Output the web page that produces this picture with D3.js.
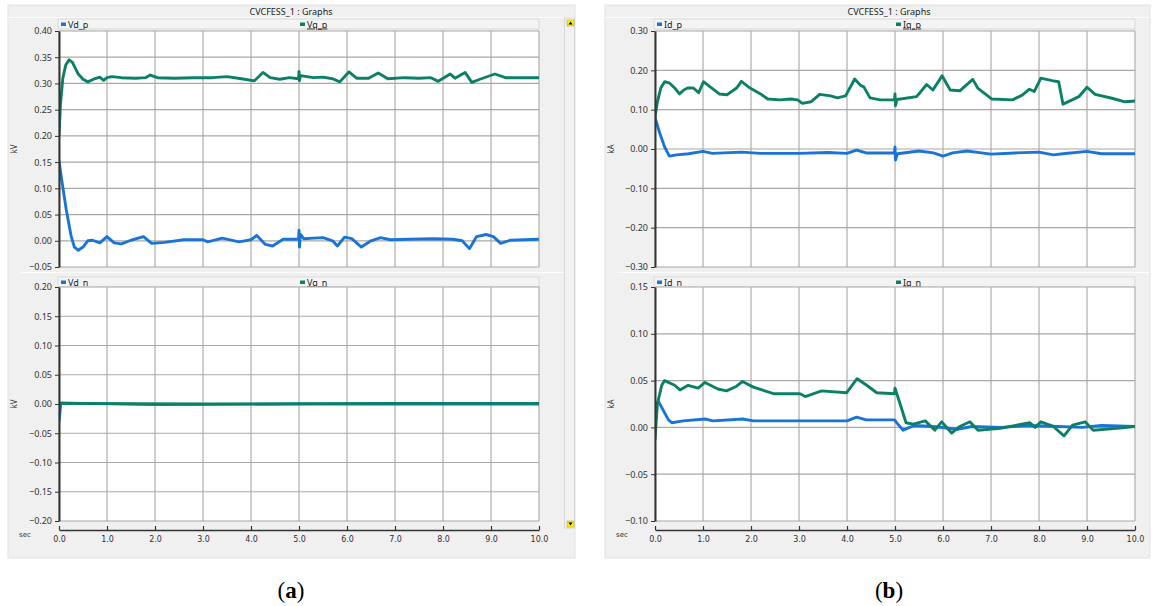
<!DOCTYPE html>
<html>
<head>
<meta charset="utf-8">
<script src="https://cdn.jsdelivr.net/npm/d3@7"></script>
<style>
  body { margin: 0; background: #fff; }
  svg { display: block; }
</style>
</head>
<body>
<svg id="chart" width="1163" height="606"></svg>
<script>
// tick labels
var secTicks = [0, 1, 2, 3, 4, 5, 6, 7, 8, 9, 10];
var kvTopTicks = [-0.05, 0, 0.05, 0.10, 0.15, 0.20, 0.25, 0.30, 0.35, 0.40];
var kvBotTicks = [-0.20, -0.15, -0.10, -0.05, 0, 0.05, 0.10, 0.15, 0.20];
var kaTopTicks = [-0.30, -0.20, -0.10, 0, 0.10, 0.20, 0.30];
var kaBotTicks = [-0.10, -0.05, 0, 0.05, 0.10, 0.15];

// (a) positive sequence voltages, [sec, kV]
var vdP = [[0,0.152],[0.05,0.12],[0.15,0.06],[0.25,0.01],[0.32,-0.012],[0.4,-0.018],[0.5,-0.012],
  [0.6,0.0],[0.7,0.001],[0.85,-0.004],[1.0,0.008],[1.15,-0.004],[1.3,-0.006],[1.5,0.001],[1.76,0.008],
  [1.93,-0.005],[2.2,-0.003],[2.6,0.002],[3.0,0.002],[3.1,-0.002],[3.4,0.005],[3.75,-0.002],[4.0,0.002],
  [4.12,0.01],[4.3,-0.007],[4.45,-0.01],[4.67,0.003],[4.99,0.003],[5.0,0.02],[5.01,-0.012],[5.03,0.012],
  [5.1,0.004],[5.3,0.005],[5.5,0.006],[5.7,0.0],[5.8,-0.01],[5.95,0.007],[6.1,0.004],[6.3,-0.012],
  [6.5,0.0],[6.7,0.006],[6.9,0.002],[7.3,0.003],[7.8,0.004],[8.2,0.003],[8.4,0.0],[8.55,-0.015],
  [8.7,0.008],[8.9,0.012],[9.05,0.008],[9.2,-0.005],[9.4,0.001],[9.7,0.002],[10,0.003]];
var vqP = [[0,0.20],[0.03,0.26],[0.08,0.31],[0.14,0.335],[0.21,0.345],[0.28,0.34],[0.4,0.318],
  [0.5,0.308],[0.6,0.303],[0.72,0.308],[0.85,0.312],[0.93,0.306],[1.0,0.311],[1.1,0.313],[1.3,0.311],
  [1.6,0.31],[1.8,0.311],[1.9,0.316],[2.05,0.311],[2.4,0.31],[2.8,0.311],[3.2,0.311],[3.5,0.313],
  [3.8,0.309],[4.07,0.305],[4.25,0.321],[4.4,0.311],[4.6,0.308],[4.8,0.311],[4.99,0.309],[5.0,0.323],
  [5.01,0.305],[5.03,0.315],[5.3,0.311],[5.5,0.312],[5.7,0.309],[5.85,0.303],[6.04,0.322],[6.2,0.31],
  [6.45,0.31],[6.65,0.32],[6.85,0.309],[7.2,0.311],[7.5,0.31],[7.75,0.311],[7.9,0.304],[8.15,0.318],
  [8.25,0.31],[8.46,0.321],[8.6,0.302],[8.77,0.308],[9.08,0.318],[9.3,0.311],[9.6,0.311],[10,0.311]];
// (a) negative sequence voltages
var vdN = [[0,-0.03],[0.04,0.002],[0.5,0.001],[2,-0.001],[5,0.0],[10,0.0]];
var vqN = [[0,0.0],[0.05,0.001],[3,0.0],[7,0.001],[10,0.001]];

// (b) positive sequence currents, [sec, kA]
var idP = [[0,0.08],[0.1,0.04],[0.2,0.005],[0.3,-0.018],[0.45,-0.015],[0.7,-0.012],[1.0,-0.006],
  [1.2,-0.011],[1.8,-0.008],[2.2,-0.011],[3.0,-0.011],[3.6,-0.009],[4.0,-0.011],[4.2,-0.003],
  [4.4,-0.01],[4.99,-0.01],[5.0,0.005],[5.01,-0.028],[5.05,-0.012],[5.5,-0.005],[5.8,-0.01],
  [6.0,-0.018],[6.2,-0.01],[6.5,-0.005],[6.8,-0.01],[7.0,-0.013],[7.5,-0.01],[8.0,-0.008],
  [8.3,-0.015],[8.5,-0.012],[9.0,-0.006],[9.3,-0.012],[10,-0.012]];
var iqP = [[0,0.08],[0.05,0.12],[0.12,0.155],[0.2,0.171],[0.3,0.168],[0.41,0.155],[0.51,0.14],
  [0.6,0.15],[0.68,0.155],[0.8,0.155],[0.91,0.143],[1.01,0.171],[1.15,0.158],[1.34,0.14],[1.5,0.138],
  [1.7,0.155],[1.8,0.172],[1.98,0.155],[2.2,0.14],[2.35,0.127],[2.6,0.125],[2.83,0.127],[2.97,0.125],
  [3.07,0.116],[3.25,0.12],[3.43,0.139],[3.66,0.135],[3.8,0.13],[3.97,0.135],[4.16,0.178],[4.28,0.162],
  [4.35,0.158],[4.48,0.13],[4.69,0.125],[4.99,0.125],[5.0,0.14],[5.01,0.11],[5.04,0.126],[5.45,0.133],
  [5.66,0.164],[5.79,0.15],[5.98,0.186],[6.15,0.15],[6.35,0.148],[6.62,0.177],[6.73,0.154],[7.02,0.127],
  [7.45,0.125],[7.65,0.137],[7.8,0.152],[7.9,0.146],[8.04,0.18],[8.27,0.174],[8.41,0.171],[8.5,0.114],
  [8.69,0.125],[8.83,0.133],[9.0,0.157],[9.17,0.139],[9.52,0.129],[9.79,0.12],[10,0.122]];
// (b) negative sequence currents
var idN = [[0,0.026],[0.08,0.027],[0.28,0.008],[0.35,0.005],[0.59,0.007],[1.04,0.009],[1.21,0.007],
  [1.83,0.009],[2.05,0.007],[3.0,0.007],[4.0,0.007],[4.2,0.011],[4.4,0.008],[4.99,0.008],[5.05,0.004],
  [5.17,-0.003],[5.4,0.002],[5.8,0.001],[6.3,-0.002],[6.6,0.001],[7.2,0.0],[7.8,0.002],[8.4,0.001],
  [8.9,0.0],[9.3,0.002],[10,0.001]];
var iqN = [[0,-0.013],[0.05,0.025],[0.14,0.045],[0.2,0.05],[0.41,0.045],[0.52,0.040],[0.69,0.045],
  [0.9,0.042],[1.04,0.048],[1.31,0.041],[1.49,0.039],[1.7,0.044],[1.82,0.049],[2.05,0.043],[2.47,0.036],
  [3.02,0.036],[3.13,0.033],[3.47,0.039],[3.99,0.037],[4.21,0.052],[4.41,0.045],[4.62,0.037],[4.99,0.036],
  [5.0,0.042],[5.1,0.026],[5.23,0.005],[5.38,0.0035],[5.63,0.007],[5.83,-0.003],[5.97,0.006],
  [6.18,-0.006],[6.35,0.001],[6.56,0.006],[6.73,-0.003],[7.19,-0.001],[7.81,0.005],[7.92,0.0],
  [8.04,0.006],[8.3,0.001],[8.52,-0.009],[8.7,0.0025],[8.96,0.006],[9.13,-0.003],[9.62,-0.001],[10,0.001]];

var blue = "#1a74d6", green = "#0c8066";
var rows = [{top: 31, bottom: 267, legend: 19}, {top: 287, bottom: 521, legend: 277}];
var axisY = 530;

var panels = [
  {left: 8, right: 575, plotL: 59, plotR: 539, mid: 291, unit: "kV", caption: "a", scroll: true,
   plots: [{ticks: kvTopTicks, names: ["Vd_p", "Vq_p"], series: [vdP, vqP]},
           {ticks: kvBotTicks, names: ["Vd_n", "Vq_n"], series: [vdN, vqN]}]},
  {left: 605, right: 1150, plotL: 655, plotR: 1135, mid: 889, unit: "kA", caption: "b", scroll: false,
   plots: [{ticks: kaTopTicks, names: ["Id_p", "Iq_p"], series: [idP, iqP]},
           {ticks: kaBotTicks, names: ["Id_n", "Iq_n"], series: [idN, iqN]}]}
];

var svg = d3.select("#chart");
svg.append("rect").attr("width", 1163).attr("height", 606).attr("fill", "#fff");

panels.forEach(function(p, pi){
  var g = svg.append("g");
  /*
      window frame + title bar
  */
  g.append("rect")
    .attr("x", p.left).attr("y", 5)
    .attr("width", p.right - p.left).attr("height", 553)
    .attr("fill", "#f0f0f0").attr("stroke", "#e2e2e2").attr("stroke-width", 1);
  g.append("line")
    .attr("x1", p.left).attr("x2", p.right).attr("y1", 17.5).attr("y2", 17.5)
    .attr("stroke", "#fbfbfb");
  g.append("text").text("CVCFESS_1 : Graphs")
    .attr("x", p.mid).attr("y", 15)
    .attr("text-anchor", "middle")
    .attr("font-family", "Noto Sans").attr("font-size", 9).attr("fill", "#222");

  var x = d3.scaleLinear().domain([0, 10]).range([p.plotL, p.plotR]);

  p.plots.forEach(function(pl, ri){
    var r = rows[ri];
    var lo = d3.min(pl.ticks), hi = d3.max(pl.ticks);
    var y = d3.scaleLinear().domain([lo, hi]).range([r.bottom, r.top]);

    if(ri == 1){
      g.append("line")
        .attr("x1", p.left + 13).attr("x2", p.right).attr("y1", 272.5).attr("y2", 272.5)
        .attr("stroke", "#fcfcfc");
    }
    // legend strip
    g.append("rect")
      .attr("x", p.plotL - 1).attr("y", r.legend)
      .attr("width", p.plotR - p.plotL + 1).attr("height", 10)
      .attr("fill", "#f4f4f4").attr("stroke", "#dadada");
    pl.names.forEach(function(nm, k){
      var lx = p.plotL + 2 + k * 239;
      g.append("rect")
        .attr("x", lx).attr("y", r.legend + 3.5)
        .attr("width", 5).attr("height", 3.5)
        .attr("fill", k == 0 ? blue : green);
      g.append("text").text(nm)
        .attr("x", lx + 7).attr("y", r.legend + 8.5)
        .attr("font-family", "Noto Sans").attr("font-size", 9).attr("fill", "#222")
        .style("text-decoration", k == 1 ? "underline" : null);
    });

    // plot area
    g.append("rect")
      .attr("x", p.plotL).attr("y", r.top)
      .attr("width", p.plotR - p.plotL).attr("height", r.bottom - r.top)
      .attr("fill", "#fff");

    // grid
    g.append("g").selectAll("line").data(secTicks).join("line")
      .attr("x1", d => x(d)).attr("x2", d => x(d))
      .attr("y1", r.top).attr("y2", r.bottom)
      .attr("stroke", "#bdb8b3").attr("stroke-width", 1.4);
    g.append("g").selectAll("line").data(pl.ticks).join("line")
      .attr("x1", p.plotL).attr("x2", p.plotR)
      .attr("y1", d => y(d)).attr("y2", d => y(d))
      .attr("stroke", "#aaa8a6").attr("stroke-width", 1.2);

    // traces
    var clipId = "clip" + pi + ri;
    g.append("clipPath").attr("id", clipId)
      .append("rect")
      .attr("x", p.plotL).attr("y", r.top - 2)
      .attr("width", p.plotR - p.plotL).attr("height", r.bottom - r.top + 4);
    var line = d3.line().x(d => x(d[0])).y(d => y(d[1]));
    pl.series.forEach(function(s, k){
      g.append("path")
        .datum(s)
        .attr("clip-path", "url(#" + clipId + ")")
        .attr("d", line)
        .attr("fill", "none")
        .attr("stroke", k == 0 ? blue : green)
        .attr("stroke-width", 2.9)
        .attr("stroke-linejoin", "round");
    });

    // y axis
    var ya = g.append("g")
      .attr("transform", "translate(" + p.plotL + ",0)")
      .call(d3.axisLeft(y).tickValues(pl.ticks).tickFormat(d3.format(".2f"))
        .tickSize(4).tickSizeOuter(0).tickPadding(3));
    ya.select(".domain").attr("stroke", "#333").attr("stroke-width", 2);
    ya.selectAll(".tick line").attr("stroke", "#333");
    ya.selectAll("text")
      .attr("font-family", "Noto Sans").attr("font-size", 9).attr("fill", "#333");

    g.append("text").text(p.unit)
      .attr("transform", "translate(" + (p.left + 9) + "," + ((r.top + r.bottom) / 2) + ") rotate(-90)")
      .attr("text-anchor", "middle")
      .attr("font-family", "Noto Sans").attr("font-size", 8).attr("fill", "#333");
  });

  // time axis
  var xa = g.append("g")
    .attr("transform", "translate(0," + axisY + ")")
    .call(d3.axisBottom(x).tickValues(secTicks).tickFormat(d3.format(".1f"))
      .tickSize(-4).tickSizeOuter(0).tickPadding(6));
  xa.select(".domain").attr("stroke", "#333").attr("stroke-width", 1.5);
  xa.selectAll(".tick line").attr("stroke", "#333").attr("stroke-width", 1.2);
  xa.selectAll("text")
    .attr("font-family", "DejaVu Sans").attr("font-size", 8).attr("fill", "#333");
  g.append("text").text("sec")
    .attr("x", p.left + 11).attr("y", 537)
    .attr("font-family", "DejaVu Sans").attr("font-size", 7).attr("fill", "#333");

  // scroll bar on the left window
  if(p.scroll){
    g.append("rect")
      .attr("x", 564.5).attr("y", 18).attr("width", 10).attr("height", 510)
      .attr("fill", "#f2f2f2").attr("stroke", "#d6d6d6");
    [{y: 20, up: true}, {y: 521, up: false}].forEach(function(b){
      g.append("rect")
        .attr("x", 567).attr("y", b.y).attr("width", 7).attr("height", 6)
        .attr("fill", "#ffee00").attr("stroke", "#b8a800").attr("stroke-width", 0.5);
      var ty = b.y + 3;
      g.append("path")
        .attr("d", b.up
          ? "M568.5," + (ty + 1.5) + "L570.5," + (ty - 1.5) + "L572.5," + (ty + 1.5) + "Z"
          : "M568.5," + (ty - 1.5) + "L570.5," + (ty + 1.5) + "L572.5," + (ty - 1.5) + "Z")
        .attr("fill", "#000");
    });
  }

  // caption (a) / (b)
  var cap = g.append("text")
    .attr("x", p.mid).attr("y", 598)
    .attr("text-anchor", "middle")
    .attr("font-family", "Liberation Serif").attr("font-size", 23).attr("fill", "#000");
  cap.append("tspan").text("(");
  cap.append("tspan").text(p.caption).attr("font-weight", "bold");
  cap.append("tspan").text(")");
});
</script>
</body>
</html>
